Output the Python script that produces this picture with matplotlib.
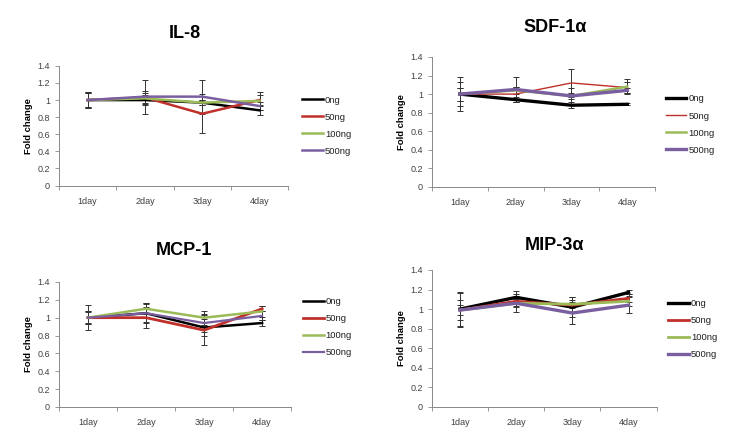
import numpy as np
import matplotlib
matplotlib.use("Agg")
import matplotlib.pyplot as plt

plt.rcParams['font.family'] = ['Liberation Sans', 'DejaVu Sans']

days = ['1day', '2day', '3day', '4day']
doses = ['0ng', '50ng', '100ng', '500ng']

# valores (fold change) y barras de error
il8 = [[1.00, 1.00, 0.97, 0.88],
       [1.00, 1.03, 0.84, 1.00],
       [1.00, 1.02, 0.97, 0.99],
       [1.00, 1.04, 1.04, 0.93]]
il8_err = [[0.09, 0.06, 0.03, 0.05],
           [0.08, 0.08, 0.23, 0.06],
           [0.09, 0.06, 0.03, 0.11],
           [0.08, 0.20, 0.20, 0.05]]

sdf = [[1.00, 0.94, 0.88, 0.89],
       [1.00, 1.00, 1.12, 1.07],
       [1.00, 1.04, 0.98, 1.08],
       [1.00, 1.05, 0.98, 1.04]]
sdf_err = [[0.07, 0.03, 0.03, 0.01],
           [0.13, 0.08, 0.15, 0.06],
           [0.18, 0.04, 0.09, 0.08],
           [0.07, 0.13, 0.03, 0.03]]

mcp = [[1.00, 1.05, 0.89, 0.94],
       [1.00, 1.00, 0.86, 1.10],
       [1.00, 1.10, 1.00, 1.07],
       [1.00, 1.05, 0.94, 1.02]]
mcp_err = [[0.07, 0.11, 0.10, 0.03],
           [0.14, 0.12, 0.17, 0.03],
           [0.07, 0.06, 0.08, 0.06],
           [0.06, 0.10, 0.10, 0.05]]

mip = [[1.00, 1.12, 1.02, 1.17],
       [0.99, 1.08, 1.04, 1.11],
       [0.99, 1.06, 1.05, 1.08],
       [0.99, 1.06, 0.96, 1.04]]
mip_err = [[0.17, 0.06, 0.10, 0.02],
           [0.10, 0.05, 0.08, 0.04],
           [0.05, 0.04, 0.04, 0.05],
           [0.17, 0.09, 0.11, 0.08]]

colores = ['#000000', '#C0302B', '#9BBB59', '#7A5FA0']

# titulo, datos, errores, posicion ejes, posicion titulo (px), grosor lineas, ancla leyenda
paneles = [
    ('IL-8', il8, il8_err, [0.080, 0.583, 0.311, 0.269], (185, 33), [1.8, 1.8, 1.8, 1.8], (1.045, 0.50)),
    ('SDF-1α', sdf, sdf_err, [0.586, 0.580, 0.303, 0.292], (555, 27), [2.4, 1.0, 1.8, 2.4], (1.03, 0.48)),
    ('MCP-1', mcp, mcp_err, [0.080, 0.0854, 0.315, 0.281], (184, 250), [1.8, 2.0, 1.8, 1.6], (1.035, 0.64)),
    ('MIP-3α', mip, mip_err, [0.586, 0.0854, 0.305, 0.308], (555, 245), [2.4, 2.0, 2.0, 2.4], (1.035, 0.57)),
]

fig = plt.figure(figsize=(7.37, 4.45), dpi=100)
x = np.arange(len(days))

for titulo, datos, errores, pos, (tx, ty), anchos, ancla in paneles:
    ax = fig.add_axes(pos)
    for i in range(len(doses)):
        ax.errorbar(x, datos[i], yerr=errores[i], fmt='none', ecolor='#333333',
                    elinewidth=0.7, capsize=2, capthick=0.7, zorder=1)
    for i in range(len(doses)):
        ax.plot(x, datos[i], color=colores[i], lw=anchos[i], label=doses[i], zorder=2)

    ax.set_xlim(-0.5, 3.5)
    ax.set_ylim(0, 1.4)
    ax.set_yticks(np.arange(0, 1.41, 0.2))
    ax.set_yticklabels(['0', '0.2', '0.4', '0.6', '0.8', '1', '1.2', '1.4'])
    ax.set_xticks(np.arange(-0.5, 3.6, 1.0))
    ax.set_xticklabels([])
    ax.set_xticks(x, minor=True)
    ax.set_xticklabels(days, minor=True)
    ax.tick_params(axis='x', which='minor', length=0, pad=8)
    ax.tick_params(axis='both', which='major', length=3, width=0.6, color='#888888')
    ax.tick_params(labelsize=6.5, labelcolor='#404040')
    ax.tick_params(axis='x', which='minor', labelsize=6.5, labelcolor='#404040')
    for s in ['top', 'right']:
        ax.spines[s].set_visible(False)
    for s in ['left', 'bottom']:
        ax.spines[s].set_color('#888888')
        ax.spines[s].set_linewidth(0.7)
    ax.set_ylabel('Fold change', fontsize=6.8, fontweight='bold', labelpad=3)

    ax.legend(loc='center left', bbox_to_anchor=ancla, frameon=False,
              fontsize=6.8, handlelength=2.2, handletextpad=0.2, labelspacing=0.85,
              labelcolor='#202020', borderaxespad=0)

    fig.text(tx / 737, 1 - ty / 445, titulo, ha='center', va='center',
             fontsize=13, fontweight='bold')

fig.savefig('out.png', dpi=100)
